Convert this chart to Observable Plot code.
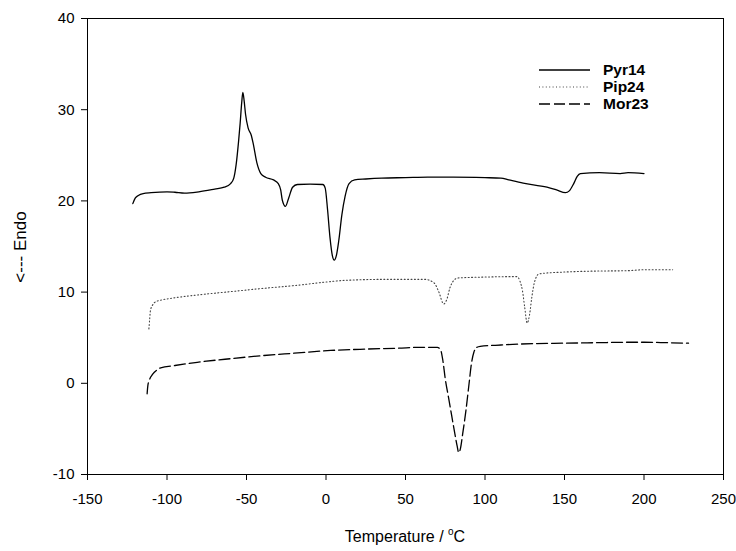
<!DOCTYPE html>
<html>
<head>
<meta charset="utf-8">
<script src="https://cdn.jsdelivr.net/npm/d3@7"></script>
<script src="https://cdn.jsdelivr.net/npm/@observablehq/plot@0.6"></script>
<style>
  body { margin: 0; background: #fff; }
  #wrap { position: relative; width: 736px; height: 551px; font-family: "Liberation Sans", Arial, sans-serif; }
  .lbl { position: absolute; font-size: 16px; color: #000; white-space: nowrap; }
  #ylab { left: 21px; top: 247px; transform: translate(-50%, -50%) rotate(-90deg); font-size: 17px; }
  #xlab { left: 405px; top: 537px; transform: translate(-50%, -50%); }
  #xlab sup { font-size: 10px; vertical-align: 7px; line-height: 0; }
  #legend { position: absolute; left: 538px; top: 61px; font-size: 15.5px; font-weight: bold; }
  #legend .row { display: flex; align-items: center; height: 17px; }
  #legend svg { width: 53px; height: 10px; margin-right: 12px; }
</style>
</head>
<body>
<div id="wrap"></div>
<script>
const seriesNames = ["Pyr14", "Pip24", "Mor23"];

const pyr14X = [-121.5,-120,-118,-115,-110,-100,-95,-89,-80,-70,-64,-60,-58,-56.5,-55,-54,-53,-52.3,-51.5,-50.6,-49,-47,-45.8,-43.5,-41,-38,-33,-30,-28.5,-27.5,-25.5,-23.5,-21,-18,-10,-2,-0.5,1,2.5,4,5.2,6.5,8,10,12,14.5,18,25,35,50,64,80,100,110,115,124,139,145,150.6,153,155.8,158,160,172,185,190,200];
const pyr14Y = [19.7,20.3,20.6,20.8,20.9,21.0,20.95,20.85,21.0,21.3,21.5,21.9,22.5,24,26.5,28.5,30.8,31.9,31,29.5,28,27.2,26.3,24.2,23.0,22.6,22.3,21.9,21.2,20.1,19.4,20.3,21.5,21.8,21.85,21.8,21.4,19,16,14,13.5,14,15.6,18.5,20.5,21.9,22.3,22.4,22.5,22.55,22.6,22.6,22.55,22.5,22.3,21.95,21.5,21.2,20.9,21.1,21.9,22.7,23.0,23.1,23.0,23.1,23.0];

const pip24X = [-111.4,-111,-110.4,-109,-107,-103,-98,-80,-60,-40,-18,0,13,40,62,68,71,74,76,78,80,83,100,120,122,123.5,125,126.5,128,129.5,131,134,150,168,190,200,218];
const pip24Y = [5.97,6.8,8.0,8.6,8.95,9.15,9.3,9.7,10.05,10.4,10.75,11.1,11.3,11.4,11.4,11.0,10.0,8.7,9.2,10.5,11.2,11.55,11.65,11.7,11.2,10.2,8.3,6.6,7.5,9.5,11.0,12.0,12.2,12.3,12.35,12.45,12.45];

const mor23X = [-112.5,-112,-111,-109,-106,-104,-95,-81,-60,-39,-20,3,25,45,60,70,72,73.5,75,77,79,81,82.5,83.5,84.5,86,88,90,91.5,93,95,97,110,130,150,170,190,200,215,228];
const mor23Y = [-1.15,-0.2,0.4,1.0,1.5,1.7,1.95,2.3,2.7,3.05,3.3,3.6,3.75,3.85,3.95,3.95,3.7,2.5,0.5,-1.5,-3.5,-5.5,-6.9,-7.6,-7.2,-5.5,-3,0,2.2,3.4,3.95,4.05,4.2,4.35,4.4,4.45,4.5,4.5,4.45,4.4];

const xTicks = [-150,-100,-50,0,50,100,150,200,250];
const yTicks = [-10,0,10,20,30,40];

const styles = {
  Pyr14: {stroke: "#000", strokeWidth: 1.3, dash: null},
  Pip24: {stroke: "#444", strokeWidth: 1.1, dash: "1,2.4"},
  Mor23: {stroke: "#000", strokeWidth: 1.3, dash: "11,4"}
};

const toRows = (xs, ys) => xs.map((x, i) => ({x, y: ys[i]}));
const data = {
  Pyr14: toRows(pyr14X, pyr14Y),
  Pip24: toRows(pip24X, pip24Y),
  Mor23: toRows(mor23X, mor23Y)
};

const fmt = d => String(d);

const chart = Plot.plot({
  width: 736,
  height: 551,
  marginLeft: 87,
  marginRight: 13,
  marginTop: 18,
  marginBottom: 77,
  style: {fontFamily: "'Liberation Sans', Arial, sans-serif", fontSize: "15px", background: "#fff", color: "#000"},
  x: {domain: [-150, 250]},
  y: {domain: [-10, 40]},
  marks: [
    Plot.frame({stroke: "#000", strokeWidth: 1}),
    Plot.axisX({ticks: xTicks, tickFormat: fmt, tickSize: 6, tickPadding: 13, label: null, fontSize: 15, strokeWidth: 1}),
    Plot.axisY({ticks: yTicks, tickFormat: fmt, tickSize: 6, tickPadding: 7, label: null, fontSize: 15, strokeWidth: 1}),
    ...seriesNames.map(n => Plot.line(data[n], {
      x: "x", y: "y", curve: "monotone-x",
      stroke: styles[n].stroke, strokeWidth: styles[n].strokeWidth,
      strokeDasharray: styles[n].dash
    }))
  ]
});

const wrap = document.getElementById("wrap");
wrap.appendChild(chart);

const ylab = document.createElement("div");
ylab.className = "lbl"; ylab.id = "ylab"; ylab.textContent = "<--- Endo";
wrap.appendChild(ylab);

const xlab = document.createElement("div");
xlab.className = "lbl"; xlab.id = "xlab";
xlab.innerHTML = "Temperature / <sup>o</sup>C";
wrap.appendChild(xlab);

const legend = document.createElement("div");
legend.id = "legend";
for (const n of seriesNames) {
  const row = document.createElement("div");
  row.className = "row";
  const s = styles[n];
  row.innerHTML = `<svg viewBox="0 0 53 10"><line x1="1" y1="5" x2="52" y2="5" stroke="${s.stroke}" stroke-width="${s.strokeWidth}" ${s.dash ? `stroke-dasharray="${s.dash}"` : ""}/></svg><span>${n}</span>`;
  legend.appendChild(row);
}
wrap.appendChild(legend);
</script>
</body>
</html>
